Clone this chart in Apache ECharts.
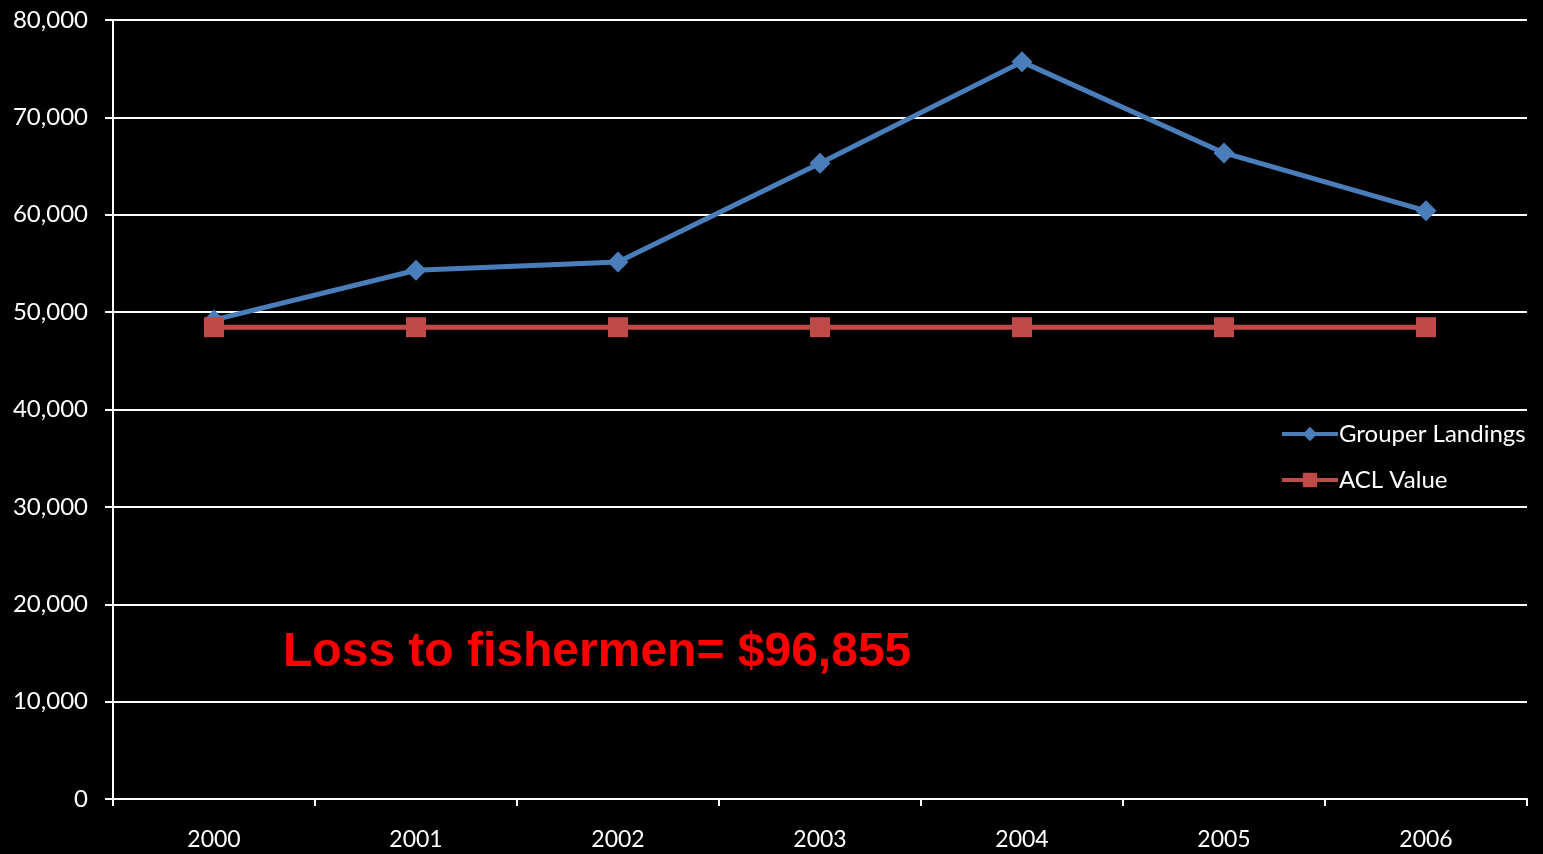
<!DOCTYPE html>
<html>
<head>
<meta charset="utf-8">
<script src="https://cdn.jsdelivr.net/npm/echarts@6/dist/echarts.min.js"></script>
<style>
  html, body { margin:0; padding:0; background:#000; }
  #chart { width:1543px; height:854px; }
</style>
</head>
<body>
<div id="chart"></div>
<script>
// chart data
var years = ['2000', '2001', '2002', '2003', '2004', '2005', '2006'];
var grouperLandings = [49200, 54300, 55150, 65300, 75700, 66350, 60400];
var aclValue = [48450, 48450, 48450, 48450, 48450, 48450, 48450];
var yTicks = { min: 0, max: 80000, interval: 10000 };
var noteText = 'Loss to fishermen= $96,855';

var labelFont = 'Lato, "Open Sans", sans-serif';

var myChart = echarts.init(document.getElementById('chart'));
myChart.setOption({
  backgroundColor: '#000',
  animation: false,
  grid: { left: 113, right: 16, top: 20, bottom: 55 },
  legend: {
    orient: 'vertical',
    left: 1275,
    top: 417,
    itemWidth: 56,
    itemHeight: 18,
    itemGap: 22,
    lineStyle: { width: 4 },
    textStyle: { color: '#fff', fontSize: 24, fontFamily: labelFont, padding: [0, 0, 0, -4] },
    data: ['Grouper Landings', 'ACL Value']
  },
  xAxis: {
    type: 'category',
    data: years,
    boundaryGap: true,
    axisLine: { lineStyle: { color: '#fff', width: 2 } },
    axisTick: { show: true, length: 7, lineStyle: { color: '#fff', width: 2 } },
    axisLabel: { color: '#fff', fontSize: 23, fontFamily: labelFont, margin: 29 },
    splitLine: { show: false }
  },
  yAxis: {
    type: 'value',
    min: yTicks.min,
    max: yTicks.max,
    interval: yTicks.interval,
    axisLine: { show: true, lineStyle: { color: '#fff', width: 2 } },
    axisTick: { show: true, length: 8, lineStyle: { color: '#fff', width: 2 } },
    axisLabel: {
      color: '#fff', fontSize: 24, fontFamily: labelFont, margin: 25,
      formatter: function (v) { return v.toLocaleString('en-US'); }
    },
    splitLine: { show: true, lineStyle: { color: '#fff', width: 2 } }
  },
  series: [
    {
      name: 'Grouper Landings',
      type: 'line',
      data: grouperLandings,
      symbol: 'diamond',
      symbolSize: 21,
      lineStyle: { color: '#4a7ebb', width: 5 },
      itemStyle: { color: '#4a7ebb' },
      z: 2
    },
    {
      name: 'ACL Value',
      type: 'line',
      data: aclValue,
      symbol: 'rect',
      symbolSize: 20,
      lineStyle: { color: '#be4b48', width: 5 },
      itemStyle: { color: '#be4b48' },
      z: 3
    }
  ],
  graphic: [
    {
      type: 'text',
      left: 283,
      top: 629,
      style: {
        text: noteText,
        fill: '#ff0000',
        font: 'bold 48px "Liberation Sans", Arial, sans-serif'
      }
    }
  ]
});
</script>
</body>
</html>
